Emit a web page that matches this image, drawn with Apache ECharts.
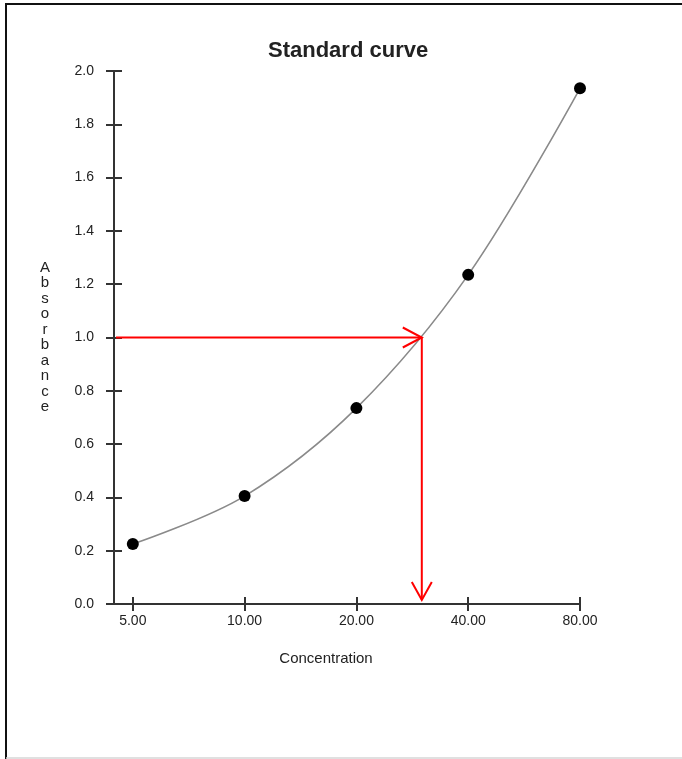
<!DOCTYPE html>
<html>
<head>
<meta charset="utf-8">
<script src="https://cdn.jsdelivr.net/npm/echarts@6/dist/echarts.min.js"></script>
<style>
html,body{margin:0;padding:0;background:#fff;}
#chart{width:682px;height:759px;}
</style>
</head>
<body>
<div id="chart"></div>
<script>
// ---- data ----
const concentrations = [5, 10, 20, 40, 80];
const absorbances = [0.225, 0.405, 0.735, 1.235, 1.935];
const xTickValues = [5, 10, 20, 40, 80];
const yMin = 0, yMax = 2, yStep = 0.2;
const sampleAbsorbance = 1.0;
const sampleConcentration = 30;
const xAxisMinConc = 4.45;

const titleText = 'Standard curve';
const xName = 'Concentration';
const yName = 'Absorbance';

// ---- build ----
const log2 = Math.log2;
const xMin = log2(xAxisMinConc);
const xMax = log2(80);
const tickPos = xTickValues.map(log2);
const seriesData = concentrations.map((c, i) => [log2(c), absorbances[i]]);
const fmtX = v => Math.pow(2, v).toFixed(2);

const font = 'Liberation Sans, Arial, sans-serif';
const axisColor = '#333';

const chart = echarts.init(document.getElementById('chart'), null, {renderer: 'canvas'});
chart.setOption({
  animation: false,
  backgroundColor: '#fff',
  title: {
    text: titleText,
    left: 263, top: 35,
    textStyle: {fontFamily: font, fontWeight: 'bold', fontSize: 22, color: '#222'}
  },
  grid: {left: 114, right: 102, top: 71, bottom: 155, containLabel: false},
  xAxis: [{
    type: 'value', min: xMin, max: xMax, position: 'bottom',
    axisLine: {show: true, onZero: false, lineStyle: {color: axisColor, width: 2}},
    axisTick: {show: true, inside: false, length: 7, customValues: tickPos, lineStyle: {color: axisColor, width: 2}},
    axisLabel: {show: true, customValues: tickPos, formatter: fmtX, margin: 10,
      fontFamily: font, fontSize: 14, color: '#222'},
    splitLine: {show: false},
    name: xName, nameLocation: 'middle', nameGap: 47,
    nameTextStyle: {fontFamily: font, fontSize: 15, color: '#222', padding: [0, 42, 0, 0]}
  }, {
    type: 'value', min: xMin, max: xMax, position: 'bottom', gridIndex: 0,
    axisLine: {show: false},
    axisTick: {show: true, inside: true, length: 7, customValues: tickPos, lineStyle: {color: axisColor, width: 2}},
    axisLabel: {show: false},
    splitLine: {show: false}
  }],
  yAxis: [{
    type: 'value', min: yMin, max: yMax, interval: yStep, position: 'left',
    axisLine: {show: true, onZero: false, lineStyle: {color: axisColor, width: 2}},
    axisTick: {show: true, inside: false, length: 8, lineStyle: {color: axisColor, width: 2}},
    axisLabel: {formatter: v => v.toFixed(1), margin: 20, fontFamily: font, fontSize: 14, color: '#222'},
    splitLine: {show: false},
    name: yName.split('').join('\n'), nameLocation: 'middle', nameRotate: 0, nameGap: 69,
    nameTextStyle: {fontFamily: font, fontSize: 15, color: '#222', lineHeight: 15.5, align: 'center', verticalAlign: 'middle'}
  }, {
    type: 'value', min: yMin, max: yMax, interval: yStep, position: 'left', gridIndex: 0,
    axisLine: {show: false},
    axisTick: {show: true, inside: true, length: 8, lineStyle: {color: axisColor, width: 2}},
    axisLabel: {show: false},
    splitLine: {show: false}
  }],
  series: [{
    type: 'line',
    data: seriesData,
    smooth: 0.35,
    symbol: 'circle', symbolSize: 12,
    itemStyle: {color: '#000'},
    lineStyle: {color: '#8a8a8a', width: 1.6},
    z: 3
  }, {
    type: 'custom',
    data: [[log2(sampleConcentration), sampleAbsorbance]],
    z: 4,
    renderItem: function (params, api) {
      const xv = api.value(0), yv = api.value(1);
      const p = api.coord([xv, yv]);
      const s = api.coord([xMin, yv]);
      const b = api.coord([xv, yMin]);
      const st = {stroke: '#ff0000', lineWidth: 2, fill: null};
      const bx = b[0], by = b[1] - 4;
      return {
        type: 'group',
        children: [
          {type: 'polyline', shape: {points: [[s[0] + 2, p[1]], [p[0], p[1]]]}, style: st},
          {type: 'polyline', shape: {points: [[p[0] - 19, p[1] - 10], [p[0], p[1]], [p[0] - 19, p[1] + 10]]}, style: st},
          {type: 'polyline', shape: {points: [[p[0], p[1]], [bx, by]]}, style: st},
          {type: 'polyline', shape: {points: [[bx - 10, by - 18], [bx, by], [bx + 10, by - 18]]}, style: st}
        ]
      };
    }
  }],
  graphic: [
    {type: 'line', shape: {x1: 6, y1: 3, x2: 6, y2: 759}, style: {stroke: '#111', lineWidth: 2}},
    {type: 'line', shape: {x1: 5, y1: 4, x2: 682, y2: 4}, style: {stroke: '#111', lineWidth: 2}},
    {type: 'line', shape: {x1: 6, y1: 758, x2: 682, y2: 758}, style: {stroke: '#d6d6d6', lineWidth: 1.5}}
  ]
});
</script>
</body>
</html>
